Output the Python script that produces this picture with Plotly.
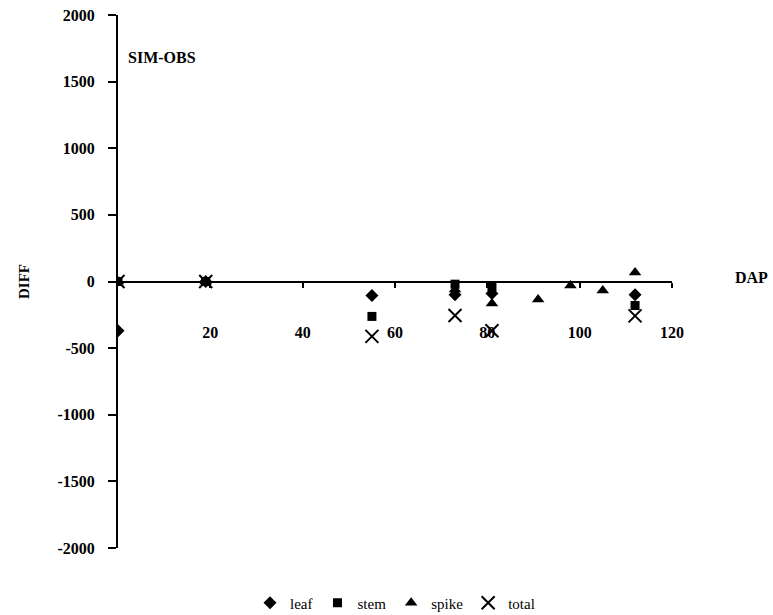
import plotly.graph_objects as go

# Data (DAP vs SIM-OBS difference)
leaf_x = [0, 19, 55, 73, 81, 112]
leaf_y = [-370, 0, -105, -100, -90, -100]

stem_x = [0, 19, 55, 73, 81, 112]
stem_y = [0, 0, -262, -20, -40, -180]

spike_x = [0, 19, 73, 81, 91, 98, 105, 112]
spike_y = [0, 0, -60, -165, -135, -30, -68, 68]

total_x = [0, 19, 55, 73, 81, 112]
total_y = [0, 0, -412, -255, -370, -258]

x_ticks = [20, 40, 60, 80, 100, 120]
y_ticks = [2000, 1500, 1000, 500, 0, -500, -1000, -1500, -2000]

FONT = "Liberation Serif"

fig = go.Figure()
fig.add_trace(go.Scatter(x=leaf_x, y=leaf_y, mode="markers", name="leaf",
                         marker=dict(symbol="diamond", size=10, color="black")))
fig.add_trace(go.Scatter(x=stem_x, y=stem_y, mode="markers", name="stem",
                         marker=dict(symbol="square", size=9, color="black")))
fig.add_trace(go.Scatter(x=spike_x, y=spike_y, mode="markers", name="spike",
                         marker=dict(symbol="triangle-up", size=11, color="black")))
fig.add_trace(go.Scatter(x=total_x, y=total_y, mode="markers", name="total",
                         marker=dict(symbol="x-thin", size=13, color="black",
                                     line=dict(width=2, color="black"))))

fig.update_layout(
    width=773, height=615,
    margin=dict(l=118, r=101, t=15, b=67, autoexpand=False),
    paper_bgcolor="white", plot_bgcolor="white",
    font=dict(family=FONT, size=15, color="black"),
    showlegend=True,
    legend=dict(orientation="h", x=0.5, xanchor="center",
                yref="container", y=(615 - 603) / 615, yanchor="middle",
                font=dict(family=FONT, size=15, color="black"),
                itemwidth=30, tracegroupgap=0),
    xaxis=dict(range=[0, 120], tickvals=x_ticks, ticktext=[str(v) for v in x_ticks],
               showline=True, linecolor="black", linewidth=2,
               ticks="outside", ticklen=5, tickcolor="black", tickwidth=2,
               anchor="free", position=0.5,
               showgrid=False, zeroline=False, automargin=False,
               ticklabelstandoff=31,
               tickfont=dict(family=FONT, size=16, color="black", weight="bold")),
    yaxis=dict(range=[-2000, 2000], tickvals=y_ticks, ticktext=[str(v) for v in y_ticks],
               showline=True, linecolor="black", linewidth=2,
               ticks="outside", ticklen=8, tickcolor="black", tickwidth=2,
               showgrid=False, zeroline=False, automargin=False,
               ticklabelstandoff=10,
               tickfont=dict(family=FONT, size=16, color="black", weight="bold")),
    annotations=[
        dict(text="<b>DIFF</b>", xref="paper", yref="paper",
             x=(24 - 118) / 554, y=(548 - 282) / 533, textangle=-90,
             showarrow=False, font=dict(family=FONT, size=15, color="black"),
             xanchor="center", yanchor="middle"),
        dict(text="<b>DAP</b>", xref="paper", yref="paper",
             x=(751 - 118) / 554, y=(548 - 277) / 533,
             showarrow=False, font=dict(family=FONT, size=16, color="black"),
             xanchor="center", yanchor="middle"),
        dict(text="<b>SIM-OBS</b>", xref="paper", yref="paper",
             x=(126 - 118) / 554, y=(548 - 57) / 533,
             showarrow=False, font=dict(family=FONT, size=16, color="black"),
             xanchor="left", yanchor="middle"),
    ],
)

fig.write_html("out.html")
